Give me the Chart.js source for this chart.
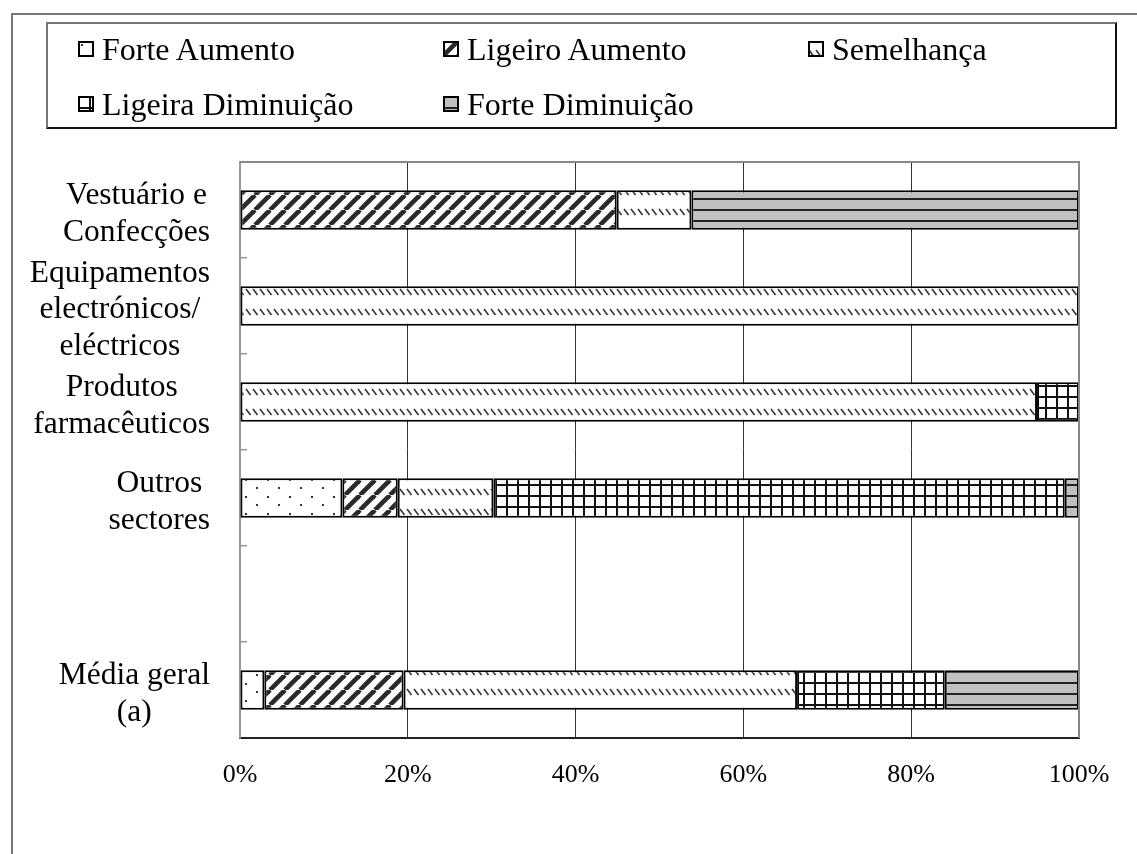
<!DOCTYPE html>
<html>
<head>
<meta charset="utf-8">
<script src="https://cdn.jsdelivr.net/npm/chart.js@4.4.0/dist/chart.umd.min.js"></script>
<style>
  html, body { margin: 0; padding: 0; background: #fff; }
  #wrap { position: relative; width: 1137px; height: 854px; overflow: hidden;
          font-family: "Liberation Serif", "Times New Roman", serif; }
  #frame { position: absolute; left: 11px; top: 13px; width: 1200px; height: 900px;
           border-top: 2px solid #777; border-left: 2px solid #777; }
  #legend { position: absolute; left: 46px; top: 22px; width: 1067px; height: 103px;
            border-style: solid; border-width: 2px; border-color: #777 #111 #111 #777; }
  .item { position: absolute; height: 36px; display: flex; align-items: center;
          font-size: 32px; line-height: 1; white-space: nowrap; color: #000; }
  .item canvas { width: 16px; height: 16px; margin-right: 8px; }
  #chart { position: absolute; left: 0; top: 0; }
</style>
</head>
<body>
<div id="wrap">
  <div id="frame"></div>
  <canvas id="chart" width="1137" height="854"></canvas>
  <div id="legend"></div>
</div>
<script>
// Sectors (one empty slot separates the sectors from the overall average)
const categories = [
  ['Vestuário e', 'Confecções'],
  ['Equipamentos', 'electrónicos/', 'eléctricos'],
  ['Produtos', 'farmacêuticos'],
  ['Outros', 'sectores'],
  [''],
  ['Média geral', '(a)']
];

// Share of answers per sector (%)
const seriesNames = ['Forte Aumento', 'Ligeiro Aumento', 'Semelhança', 'Ligeira Diminuição', 'Forte Diminuição'];
const forteAumento      = [null, null, null, 12.2, null, 2.9];
const ligeiroAumento    = [44.9, null, null, 6.6, null, 16.6];
const semelhanca        = [8.9, 100, 95, 11.4, null, 46.9];
const ligeiraDiminuicao = [null, null, 5, 68.1, null, 17.6];
const forteDiminuicao   = [46.2, null, null, 1.7, null, 16.0];
const seriesValues = [forteAumento, ligeiroAumento, semelhanca, ligeiraDiminuicao, forteDiminuicao];

// X axis ticks
const xTicks = [0, 20, 40, 60, 80, 100];
const xTickLabels = ['0%', '20%', '40%', '60%', '80%', '100%'];

const FONT = '"Liberation Serif", "Times New Roman", serif';

// ---- fill patterns ----
function tile(w, h, draw) {
  const c = document.createElement('canvas');
  c.width = w; c.height = h;
  const g = c.getContext('2d');
  draw(g, w, h);
  return g.createPattern(c, 'repeat');
}
const patterns = [
  // sparse dots
  tile(22, 17, (g, w, h) => {
    g.fillStyle = '#fff'; g.fillRect(0, 0, w, h);
    g.fillStyle = '#333';
    g.fillRect(3, 3, 2, 2);
    g.fillRect(14, 11, 2, 2);
  }),
  // wide "/" stripes
  tile(15, 15, (g, w, h) => {
    g.fillStyle = '#fff'; g.fillRect(0, 0, w, h);
    g.strokeStyle = '#2a2a2a'; g.lineWidth = 4.6;
    for (let k = -1; k <= 1; k++) {
      g.beginPath(); g.moveTo(k * w, h); g.lineTo(k * w + w, 0); g.stroke();
    }
  }),
  // small "\" dashes
  tile(7, 20, (g, w, h) => {
    g.fillStyle = '#fff'; g.fillRect(0, 0, w, h);
    g.strokeStyle = '#333'; g.lineWidth = 1.6;
    g.beginPath(); g.moveTo(1, 9); g.lineTo(5.5, 15); g.stroke();
  }),
  // grid
  tile(11, 11, (g, w, h) => {
    g.fillStyle = '#fff'; g.fillRect(0, 0, w, h);
    g.fillStyle = '#111';
    g.fillRect(0, 0, w, 2);
    g.fillRect(0, 0, 2, h);
  }),
  // horizontal lines on grey
  tile(4, 11, (g, w, h) => {
    g.fillStyle = '#c0c0c0'; g.fillRect(0, 0, w, h);
    g.fillStyle = '#222';
    g.fillRect(0, 0, w, 2);
  })
];

// ---- legend (three columns, two rows) ----
const legendPos = [[78, 49], [443, 49], [808, 49], [78, 104], [443, 104]];
const wrapEl = document.getElementById('wrap');
seriesNames.forEach((name, i) => {
  const item = document.createElement('div');
  item.className = 'item';
  item.style.left = legendPos[i][0] + 'px';
  item.style.top = (legendPos[i][1] - 18) + 'px';
  const ic = document.createElement('canvas');
  ic.width = 16; ic.height = 16;
  const g = ic.getContext('2d');
  g.fillStyle = patterns[i]; g.fillRect(0, 0, 16, 16);
  g.strokeStyle = '#000'; g.lineWidth = 2; g.strokeRect(1, 1, 14, 14);
  item.appendChild(ic);
  const t = document.createElement('span');
  t.textContent = name;
  item.appendChild(t);
  wrapEl.appendChild(item);
});

// ---- category labels: block right-aligned, lines centred within it ----
const categoryLabels = {
  id: 'categoryLabels',
  afterDraw(chart) {
    const { ctx } = chart;
    const y = chart.scales.y;
    ctx.save();
    ctx.font = '31.5px ' + FONT;
    ctx.fillStyle = '#000';
    ctx.textAlign = 'center';
    ctx.textBaseline = 'middle';
    const right = 210, lh = 36.5, shift = 4;
    categories.forEach((lines, i) => {
      const cy = y.getPixelForValue(i) + shift;
      const wMax = Math.max(...lines.map(s => ctx.measureText(s).width));
      const cx = right - wMax / 2;
      lines.forEach((s, j) => {
        ctx.fillText(s, cx, cy + (j - (lines.length - 1) / 2) * lh);
      });
    });
    ctx.restore();
  }
};

// top and right edges of the plot area
const plotEdges = {
  id: 'plotEdges',
  afterDraw(chart) {
    const { ctx, chartArea: a } = chart;
    ctx.save();
    ctx.strokeStyle = '#888';
    ctx.lineWidth = 2;
    ctx.beginPath();
    ctx.moveTo(a.left, a.top); ctx.lineTo(a.right, a.top); ctx.lineTo(a.right, a.bottom);
    ctx.stroke();
    ctx.restore();
  }
};

Chart.defaults.font.family = FONT;
Chart.defaults.color = '#000';

new Chart(document.getElementById('chart'), {
  type: 'bar',
  data: {
    labels: categories.map(l => l.join(' ')),
    datasets: seriesNames.map((name, i) => ({
      label: name,
      data: seriesValues[i],
      backgroundColor: patterns[i],
      borderColor: '#000',
      borderWidth: 2,
      borderSkipped: false,
      barPercentage: 0.41,
      categoryPercentage: 1
    }))
  },
  options: {
    indexAxis: 'y',
    responsive: false,
    animation: false,
    devicePixelRatio: 1,
    layout: { padding: { top: 162, right: 58, left: 0, bottom: 0 } },
    plugins: { legend: { display: false }, tooltip: { enabled: false } },
    scales: {
      x: {
        stacked: true, min: 0, max: 100,
        afterBuildTicks(s) { s.ticks = xTicks.map(v => ({ value: v })); },
        ticks: {
          callback: (v, i) => xTickLabels[i],
          font: { size: 26 }, color: '#000', padding: 22, maxRotation: 0
        },
        grid: { color: '#333', lineWidth: 1, drawTicks: false },
        border: { color: '#222', width: 2 },
        afterFit(s) { s.height = 116; }
      },
      y: {
        stacked: true,
        grid: { drawOnChartArea: false, drawTicks: true, tickLength: -7, color: '#999', lineWidth: 1.5 },
        border: { color: '#999', width: 2 },
        ticks: { display: false },
        afterFit(s) { s.width = 240; }
      }
    }
  },
  plugins: [categoryLabels, plotEdges]
});
</script>
</body>
</html>
